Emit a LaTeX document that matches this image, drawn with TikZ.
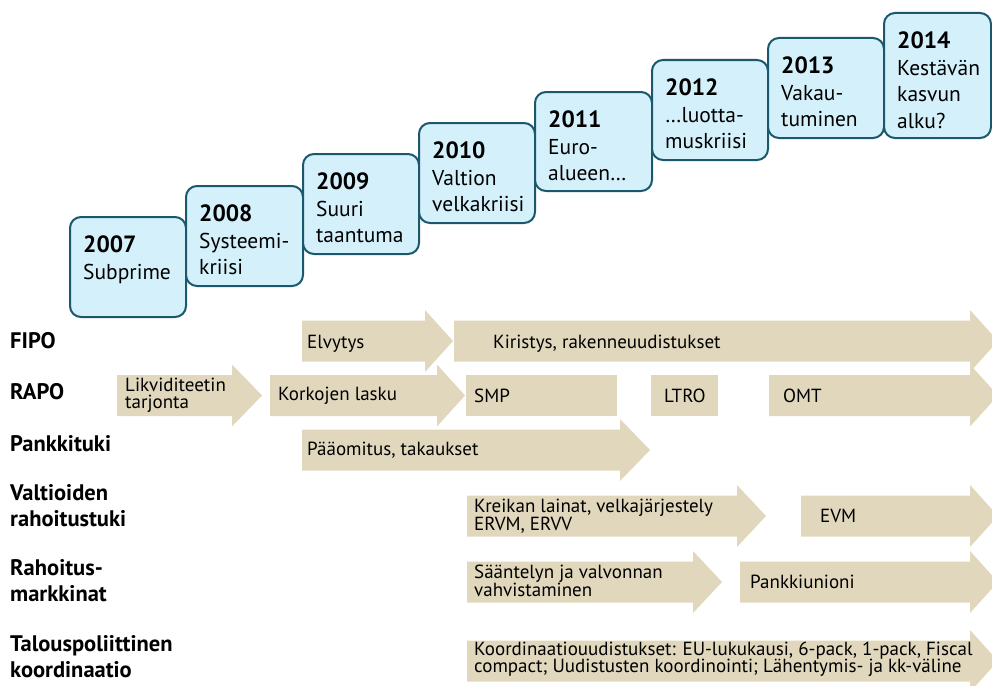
\documentclass[tikz,border=0pt]{standalone}
\usepackage{fontspec}
\setmainfont{PT Sans}
\definecolor{boxfill}{RGB}{212,241,251}
\definecolor{boxline}{RGB}{27,88,108}
\definecolor{bandfill}{RGB}{224,215,188}
\tikzset{
	yearbox/.style = {rectangle, rounded corners=11pt, draw=boxline, line width=2pt, fill=boxfill, anchor=north west, inner sep=0pt},
	yeartext/.style = {anchor=north west, align=left, font=\fontsize{21.5}{26.5}\selectfont, inner sep=0pt},
	rowlabel/.style = {anchor=west, align=left, font=\fontsize{22.5}{26}\selectfont\bfseries, inner sep=0pt},
	bandtext/.style = {anchor=west, align=left, font=\fontsize{19}{17.5}\selectfont, inner sep=0pt},
	band/.style = {fill=bandfill}
}
% fat arrow: left end, head base, tip, centre line
\newcommand{\bandarrow}[4]{%
	\fill[band] (#1,#4-20.5) -- (#2,#4-20.5) -- (#2,#4-31) -- (#3,#4) -- (#2,#4+31) -- (#2,#4+20.5) -- (#1,#4+20.5) -- cycle;}

\begin{document}
\begin{tikzpicture}[x=1pt, y=-1pt]
	\useasboundingbox (0,0) rectangle (992,685);
	
	% Years
	\foreach \yr/\x/\y/\w/\h/\txt in {
		2007/69/216/116/100/{Subprime},
		2008/185/185/117/100/{Systeemi-\\kriisi},
		2009/302/153/116/100/{Suuri\\taantuma},
		2010/418/122/116/100/{Valtion\\velkakriisi},
		2011/534/91/117/99/{Euro-\\alueen…},
		2012/651/59/116/100/{…luotta-\\muskriisi},
		2013/767/37/116/100/{Vakau-\\tuminen},
		2014/883/12/107/125/{Kestävän\\kasvun\\alku?}}{
		\node (box\yr) [yearbox, minimum width=\w pt, minimum height=\h pt] at (\x,\y) {};
		\node (txt\yr) [yeartext] at ([shift={(14pt,-20pt)}]box\yr.north west) {{\fontsize{23.5}{26.5}\selectfont\bfseries \yr}\\\txt};
	}
	
	% FIPO
	\bandarrow{302}{425}{453}{341}
	\bandarrow{454}{970}{998}{341}
	% RAPO
	\bandarrow{117}{232}{262}{395.5}
	\bandarrow{270}{437}{465}{395.5}
	\fill[band] (466,375) rectangle (617,416);
	\fill[band] (651,375) rectangle (718,416);
	\bandarrow{769}{970}{998}{395.5}
	% Pankkituki
	\bandarrow{302}{620}{650}{450}
	% Valtioiden rahoitustuki
	\bandarrow{467}{737}{766}{516}
	\bandarrow{801}{970}{998}{516}
	% Rahoitusmarkkinat
	\bandarrow{467}{693}{722}{582}
	\bandarrow{740}{970}{998}{582}
	% Talouspoliittinen koordinaatio
	\bandarrow{467}{970}{998}{661}
	
	% Row labels
	\node (fipo) [rowlabel] at (10,341) {FIPO};
	\node (rapo) [rowlabel] at (10,392) {RAPO};
	\node (pankki) [rowlabel] at (10,444) {Pankkituki};
	\node (valtiot) [rowlabel] at (10,506) {Valtioiden\\rahoitustuki};
	\node (markkinat) [rowlabel] at (10,581) {Rahoitus-\\markkinat};
	\node (koord) [rowlabel] at (10,657) {Talouspoliittinen\\koordinaatio};
	
	% Band texts
	\node (elvytys) [bandtext] at (307,344) {Elvytys};
	\node (kiristys) [bandtext] at (493,344) {Kiristys, rakenneuudistukset};
	\node (likvid) [bandtext] at (125,395.5) {Likviditeetin\\tarjonta};
	\node (korot) [bandtext] at (278,396) {Korkojen lasku};
	\node (smp) [bandtext] at (474,396) {SMP};
	\node (ltro) [bandtext] at (664,396) {LTRO};
	\node (omt) [bandtext] at (783,396) {OMT};
	\node (paaoma) [bandtext] at (307,450) {Pääomitus, takaukset};
	\node (kreikka) [bandtext] at (474,516) {Kreikan lainat, velkajärjestely\\ERVM, ERVV};
	\node (evm) [bandtext] at (820,516) {EVM};
	\node (saantely) [bandtext] at (474,581) {Sääntelyn ja valvonnan\\vahvistaminen};
	\node (unioni) [bandtext] at (750,582) {Pankkiunioni};
	\node (koordtxt) [bandtext] at (474,659) {Koordinaatiouudistukset: EU-lukukausi, 6-pack, 1-pack, Fiscal\\compact; Uudistusten koordinointi; Lähentymis- ja kk-väline};
	
\end{tikzpicture}
\end{document}
